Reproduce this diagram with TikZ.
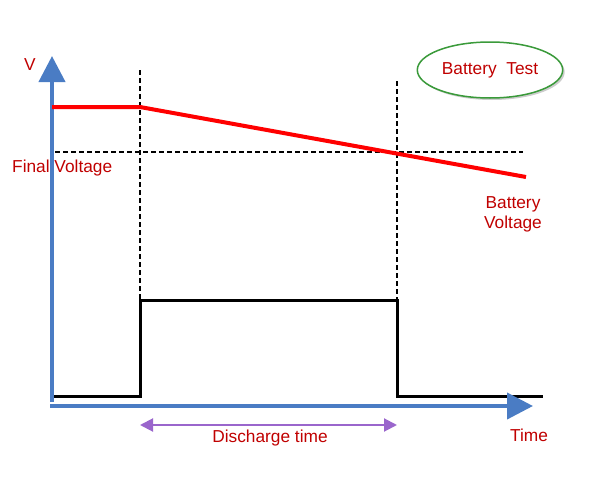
\documentclass[tikz,border=0pt]{standalone}
\usepackage{fontspec}
\setmainfont{Liberation Sans}
\usetikzlibrary{arrows.meta,shapes.geometric,shadows}
\definecolor{axisblue}{HTML}{4A7CC4}
\definecolor{txtred}{HTML}{C00000}
\definecolor{purp}{HTML}{9A66CC}
\definecolor{grn}{HTML}{3A9A3A}
\tikzset{
  lbl/.style={text=txtred,font=\fontsize{17.3}{20}\selectfont,inner sep=0pt},
  axisline/.style={draw=axisblue,line width=4pt,-{Triangle[length=26pt,width=26pt]}},
  guide/.style={draw=black,line width=1.1pt,dash pattern=on 5pt off 3pt},
  volt/.style={draw=red,line width=4pt},
  pulse/.style={draw=black,line width=3pt},
}
\begin{document}
\begin{tikzpicture}[x=1pt,y=-1pt]
\useasboundingbox (0,0) rectangle (600,479);
% coordinates
\coordinate (ytop) at (52,56);
\coordinate (xend) at (533,406);
\coordinate (v0) at (52,107);
\coordinate (v1) at (140,107);
\coordinate (v2) at (526,177);
\coordinate (d1t) at (140,70);
\coordinate (d1b) at (140,300);
\coordinate (d2t) at (397,81);
\coordinate (d2b) at (397,300);
\coordinate (hl) at (55,152);
\coordinate (hr) at (523,152);
\coordinate (p0) at (52,396);
\coordinate (p1) at (140,396);
\coordinate (p2) at (140,300);
\coordinate (p3) at (397,300);
\coordinate (p4) at (397,396);
\coordinate (p5) at (543,396);
\coordinate (a1) at (140,425);
\coordinate (a2) at (397,425);
% guides
\draw[guide] (d1t) -- (d1b);
\draw[guide] (d2t) -- (d2b);
\draw[guide] (hl) -- (hr);
% pulse
\draw[pulse,line join=miter] (p0) -- (p1) -- (p2) -- (p3) -- (p4) -- (p5);
% axes
\draw[axisline] (52,402) -- (ytop);
\draw[axisline] (50,406) -- (xend);
% voltage
\draw[volt,line join=round] (v0) -- (v1) -- (v2);
% discharge arrow
\draw[draw=purp,line width=2pt,{Triangle[length=13pt,width=13pt]}-{Triangle[length=13pt,width=13pt]}] (a1) -- (a2);
% labels
\node[lbl] (vlab) at (30,65) {V};
\node[lbl,anchor=west] (fv) at (12,168) {Final Voltage};
\node[lbl,align=center] (bv) at (513,214) {Battery\\Voltage};
\node[lbl] (dt) at (270,438) {Discharge time};
\node[lbl] (tm) at (529,435) {Time};
\node[ellipse,draw=grn,line width=1.5pt,fill=white,minimum width=118pt,minimum height=56pt,
  drop shadow={shadow xshift=2pt,shadow yshift=-2pt,fill=black!40,opacity=0.5},
  text=txtred,font=\fontsize{17.3}{20}\selectfont] (bt) at (490,70) {Battery~~Test};
\end{tikzpicture}
\end{document}
